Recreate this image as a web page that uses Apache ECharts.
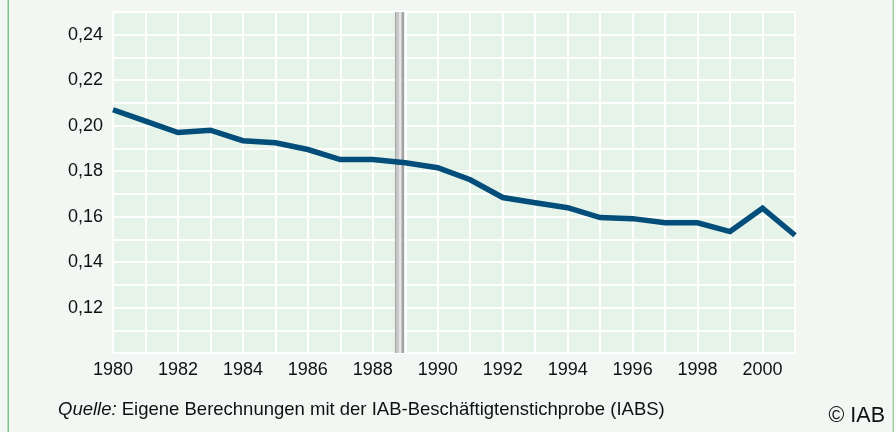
<!DOCTYPE html>
<html>
<head>
<meta charset="utf-8">
<script src="https://cdn.jsdelivr.net/npm/echarts@6/dist/echarts.min.js"></script>
<style>
html,body{margin:0;padding:0;background:#f2f7f3;}
#c{width:894px;height:432px;}
</style>
</head>
<body>
<div id="c"></div>
<script>
var years = [1980,1981,1982,1983,1984,1985,1986,1987,1988,1989,1990,1991,1992,1993,1994,1995,1996,1997,1998,1999,2000,2001];
var values = [0.207,0.202,0.197,0.198,0.1934,0.1925,0.1895,0.1851,0.1851,0.1837,0.1815,0.1762,0.1684,0.1661,0.1639,0.1596,0.1591,0.1573,0.1573,0.1534,0.1637,0.1518];
var breakYear = 1988.8;
var sourceLabel = 'Quelle:';
var sourceText = ' Eigene Berechnungen mit der IAB-Beschäftigtenstichprobe (IABS)';
var copyright = '© IAB';

var chart = echarts.init(document.getElementById('c'), null, {renderer:'canvas'});
var font = '"Liberation Sans", Arial, sans-serif';
var data = years.map(function(y,i){return [y, values[i]];});
chart.setOption({
  backgroundColor:'#f2f7f3',
  animation:false,
  grid:{left:113, right:99, top:12, bottom:79, show:true, backgroundColor:'#e6f3e9', borderWidth:0},
  xAxis:{type:'value', min:1980, max:2001, interval:1,
    axisLine:{show:false}, axisTick:{show:false},
    splitLine:{show:true, lineStyle:{color:'#ffffff', width:2}},
    axisLabel:{margin:8, fontFamily:font, fontSize:18, color:'#111',
      formatter:function(v){return (v%2===0)? String(v):'';}}
  },
  yAxis:{type:'value', min:0.10, max:0.25, interval:0.01,
    axisLine:{show:false}, axisTick:{show:false},
    splitLine:{show:true, lineStyle:{color:'#ffffff', width:2}},
    axisLabel:{margin:10, fontFamily:font, fontSize:18, color:'#111',
      formatter:function(v){var k=Math.round(v*100); if(k%2!==0||k<=10||k>=25) return ''; return (k/100).toFixed(2).replace('.',',');}}
  },
  series:[
    {type:'line', data:[], silent:true,
      markLine:{symbol:'none', silent:true, label:{show:false},
        lineStyle:{color:'#a2a2a2', width:9, type:'solid'},
        data:[{xAxis:breakYear}]}},
    {type:'line', data:[], silent:true,
      markLine:{symbol:'none', silent:true, label:{show:false},
        lineStyle:{color:'#c8c8c8', width:6, type:'solid'},
        data:[{xAxis:breakYear}]}},
    {type:'line', data:[], silent:true,
      markLine:{symbol:'none', silent:true, label:{show:false},
        lineStyle:{color:'#e6e6e6', width:2, type:'solid'},
        data:[{xAxis:breakYear+0.03}]}},
    {type:'line', data:data, showSymbol:false, symbol:'none',
      lineStyle:{color:'#034d7b', width:5.5, join:'miter'}, z:5}
  ],
  graphic:[
    {type:'rect', shape:{x:7.5, y:0, width:1.5, height:432}, style:{fill:'#7cc48a'}, silent:true},
    {type:'rect', shape:{x:892.5, y:0, width:1.5, height:432}, style:{fill:'#9fd3aa'}, silent:true},
    {type:'text', left:58, top:400, silent:true,
      style:{text:'{i|'+sourceLabel+'}'+sourceText, font:'18.5px '+font, fill:'#111',
        rich:{i:{fontStyle:'italic', fontSize:18.5, fontFamily:font, fill:'#111'}}}},
    {type:'text', right:9, top:405, silent:true,
      style:{text:copyright, font:'21.5px '+font, fill:'#111'}}
  ]
});
</script>
</body>
</html>
